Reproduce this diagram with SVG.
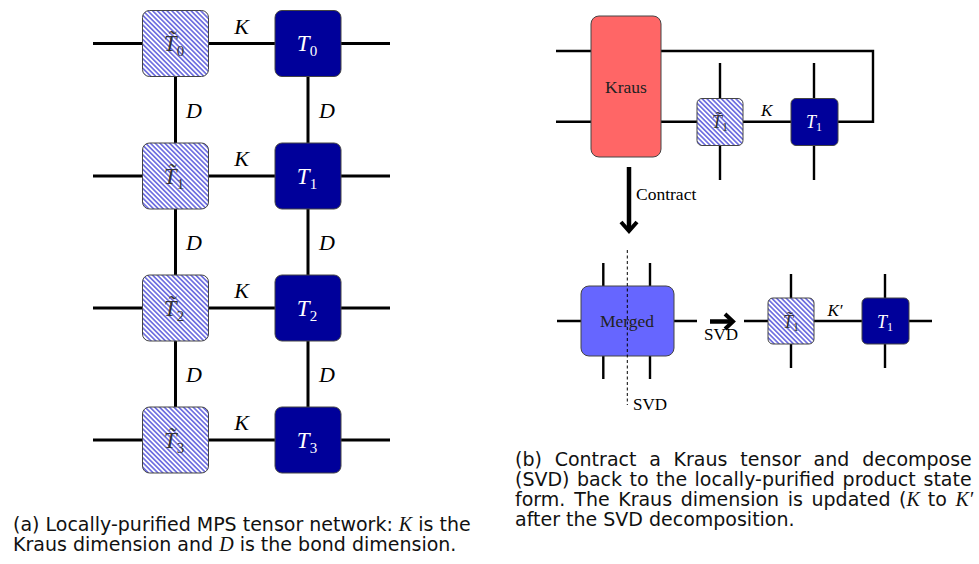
<svg xmlns="http://www.w3.org/2000/svg" width="979" height="564" viewBox="0 0 979 564">
<style>
.w{stroke:#000;stroke-width:3;fill:none}
.wb{stroke:#000;stroke-width:2.4;fill:none}
.hb{fill:url(#hatch);stroke:#444;stroke-width:1}
.bb{fill:#00009a;stroke:#444;stroke-width:1}
.m{font-family:"Liberation Serif",serif;font-style:italic}
.r{font-family:"Liberation Serif",serif}
.sub{font-style:normal}
.cap{font-family:"DejaVu Sans",sans-serif;font-size:19px;fill:#111}
.lt{fill:#fff}
.gt{fill:#333}
</style>
<defs>
<pattern id="hatch" patternUnits="userSpaceOnUse" width="3.4" height="3.4" patternTransform="rotate(-45)">
<rect width="3.4" height="3.4" fill="#fff"/>
<line x1="1.7" y1="0" x2="1.7" y2="3.4" stroke="#0000c8" stroke-width="0.95"/>
</pattern>
</defs>

<g id="connectors">
<path class="w" d="M93,43.5H390M93,176H390M93,308H390M93,440H390M175.5,43.5V440M308,43.5V440"/>
<path class="wb" d="M556,51H873V121.7H838M556,121.7H838M720,63V180M814,63V180"/>
<path d="M629,167V229" stroke="#000" stroke-width="4.5" fill="none"/>
<path d="M621,222L629,231L637,222" stroke="#000" stroke-width="4" fill="none"/>
<path class="wb" d="M557,321H697M603.3,263V379M650,263V379M744,321H932M791,274V368M885,274V368"/>
<path d="M710,321.5H730" stroke="#000" stroke-width="4.5" fill="none"/>
<path d="M725,314L733,321.5L725,329" stroke="#000" stroke-width="4" fill="none"/>
</g>

<g id="a-labels" class="m" font-size="22" text-anchor="middle">
<text x="241.5" y="34">K</text>
<text x="241.5" y="166">K</text>
<text x="241.5" y="298">K</text>
<text x="241.5" y="430">K</text>
<text x="194" y="118">D</text>
<text x="194" y="250">D</text>
<text x="194" y="382">D</text>
<text x="327" y="118">D</text>
<text x="327" y="250">D</text>
<text x="327" y="382">D</text>
</g>

<g id="tt0"><rect class="hb" x="142.5" y="10.5" width="66" height="66" rx="7"/><text class="m gt" x="174" y="51" font-size="23" text-anchor="middle">T&#x303;<tspan class="sub" font-size="15" dy="5">0</tspan></text></g>
<g id="tt1"><rect class="hb" x="142.5" y="143" width="66" height="66" rx="7"/><text class="m gt" x="174" y="183.5" font-size="23" text-anchor="middle">T&#x303;<tspan class="sub" font-size="15" dy="5">1</tspan></text></g>
<g id="tt2"><rect class="hb" x="142.5" y="275" width="66" height="66" rx="7"/><text class="m gt" x="174" y="315.5" font-size="23" text-anchor="middle">T&#x303;<tspan class="sub" font-size="15" dy="5">2</tspan></text></g>
<g id="tt3"><rect class="hb" x="142.5" y="407" width="66" height="66" rx="7"/><text class="m gt" x="174" y="447.5" font-size="23" text-anchor="middle">T&#x303;<tspan class="sub" font-size="15" dy="5">3</tspan></text></g>

<g id="t0"><rect class="bb" x="275" y="10.5" width="66" height="66" rx="7"/><text class="m lt" x="307" y="51" font-size="23" text-anchor="middle">T<tspan class="sub" font-size="15" dy="5">0</tspan></text></g>
<g id="t1"><rect class="bb" x="275" y="143" width="66" height="66" rx="7"/><text class="m lt" x="307" y="183.5" font-size="23" text-anchor="middle">T<tspan class="sub" font-size="15" dy="5">1</tspan></text></g>
<g id="t2"><rect class="bb" x="275" y="275" width="66" height="66" rx="7"/><text class="m lt" x="307" y="315.5" font-size="23" text-anchor="middle">T<tspan class="sub" font-size="15" dy="5">2</tspan></text></g>
<g id="t3"><rect class="bb" x="275" y="407" width="66" height="66" rx="7"/><text class="m lt" x="307" y="447.5" font-size="23" text-anchor="middle">T<tspan class="sub" font-size="15" dy="5">3</tspan></text></g>

<g id="kraus"><rect x="591" y="16" width="70" height="141" rx="8" fill="#ff6666" stroke="#444" stroke-width="1"/><text class="r" x="626" y="93" font-size="17.5" text-anchor="middle" fill="#222">Kraus</text></g>
<g id="b-tt1"><rect class="hb" x="697" y="98.5" width="46" height="47" rx="5"/><text class="m gt" x="720" y="128" font-size="18" text-anchor="middle">T&#x303;<tspan class="sub" font-size="12" dy="3">1</tspan></text></g>
<g id="b-t1"><rect class="bb" x="791" y="98.5" width="47" height="47" rx="5"/><text class="m lt" x="814" y="128" font-size="18" text-anchor="middle">T<tspan class="sub" font-size="12" dy="3">1</tspan></text></g>
<text class="m" x="766.7" y="116" font-size="17" text-anchor="middle">K</text>
<text class="r" x="636" y="200" font-size="17.5">Contract</text>

<g id="merged"><rect x="581" y="286" width="93" height="70" rx="8" fill="#6666ff" stroke="#444" stroke-width="1"/><text class="r" x="627" y="327" font-size="17.5" text-anchor="middle" fill="#222">Merged</text></g>
<g id="svd-cut"><path d="M627.3,250V405" stroke="#000" stroke-width="1" stroke-dasharray="3,2.5" fill="none"/><text class="r" x="633" y="410" font-size="17">SVD</text></g>
<text class="r" x="721" y="340" font-size="17" text-anchor="middle">SVD</text>

<g id="c-tt1"><rect class="hb" x="768" y="298" width="46" height="46" rx="5"/><text class="m gt" x="791" y="327.5" font-size="18" text-anchor="middle">T&#x303;<tspan class="sub" font-size="12" dy="3">1</tspan></text></g>
<g id="c-t1"><rect class="bb" x="862" y="298" width="47" height="46" rx="5"/><text class="m lt" x="885" y="327.5" font-size="18" text-anchor="middle">T<tspan class="sub" font-size="12" dy="3">1</tspan></text></g>
<text class="m" x="835" y="316" font-size="17" text-anchor="middle">K′</text>

<g id="caption-a">
<text class="cap" x="13" y="531">(a) Locally-purified MPS tensor network: <tspan class="m" font-size="20">K</tspan> is the</text>
<text class="cap" x="13" y="551">Kraus dimension and <tspan class="m" font-size="20">D</tspan> is the bond dimension.</text>
</g>
<g id="caption-b">
<text class="cap" y="466"><tspan x="515">(b)</tspan><tspan x="554.7">Contract</tspan><tspan x="649.2">a</tspan><tspan x="673.6">Kraus</tspan><tspan x="740.3">tensor</tspan><tspan x="813.6">and</tspan><tspan x="862.2">decompose</tspan></text>
<text class="cap" y="486"><tspan x="515">(SVD)</tspan><tspan x="576.9">back</tspan><tspan x="629.5">to</tspan><tspan x="656">the</tspan><tspan x="694.6">locally-purified</tspan><tspan x="842.6">product</tspan><tspan x="923.5">state</tspan></text>
<text class="cap" y="506"><tspan x="515">form.</tspan><tspan x="574.3">The</tspan><tspan x="618.2">Kraus</tspan><tspan x="680.7">dimension</tspan><tspan x="787.7">is</tspan><tspan x="811.5">updated</tspan><tspan x="899.1">(</tspan><tspan class="m" font-size="20">K</tspan><tspan x="927.8">to</tspan><tspan x="955.5" class="m" font-size="20">K′</tspan></text>
<text class="cap" x="515" y="526">after the SVD decomposition.</text>
</g>
</svg>
